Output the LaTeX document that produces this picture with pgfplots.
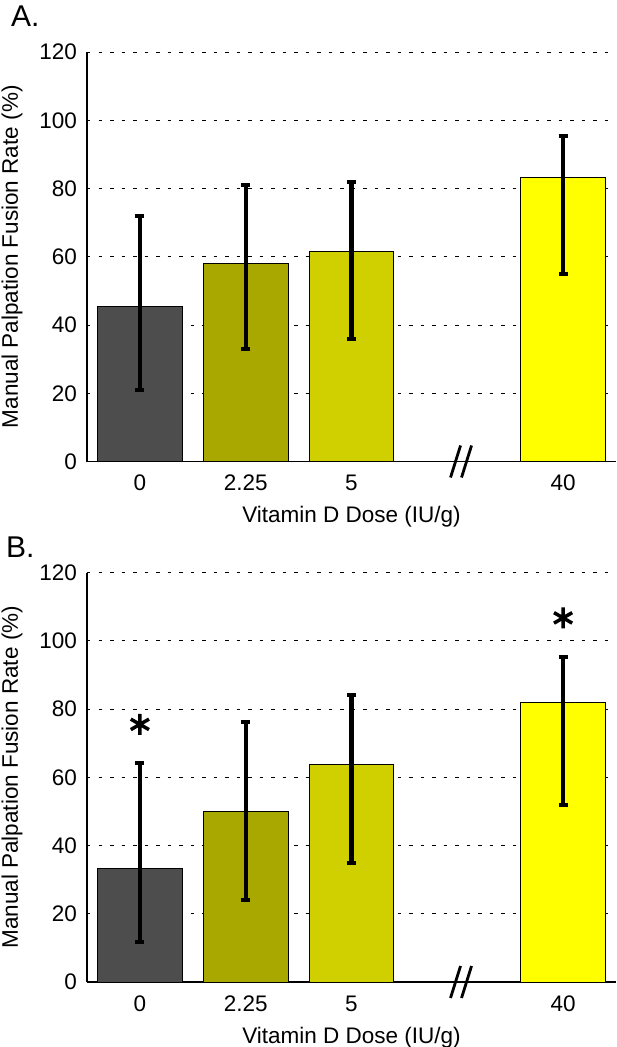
\documentclass[border=0pt]{standalone}
\usepackage{pgfplots}
\pgfplotsset{compat=1.18}
\usepackage{fontspec}
\setmainfont{Liberation Sans}
\definecolor{c0}{RGB}{77,77,77}
\definecolor{c1}{RGB}{168,168,0}
\definecolor{c2}{RGB}{208,208,0}
\definecolor{c3}{RGB}{255,255,0}
\pgfplotsset{
 panel/.style={scale only axis, width=529pt, height=409.5pt, anchor=south west,
   xmin=-0.5, xmax=4.5, ymin=0, ymax=120,
   xtick={0,1,2,4}, xticklabels={0,2.25,5,40},
   ytick={0,20,...,120},
   /pgf/number format/assume math mode=true,
   axis x line*=bottom, axis y line*=left,
   axis line style={-, line width=1.2pt, black},
   major tick length=0pt,
   ymajorgrids, major grid style={black, line width=1pt, dash pattern=on 3.5pt off 8pt},
   tick label style={font=\fontsize{22.5}{24}\selectfont, inner sep=0pt},
   xticklabel style={anchor=north, yshift=-13.5pt},
   yticklabel style={anchor=east, xshift=-10pt},
   label style={font=\fontsize{22.5}{24}\selectfont, inner sep=0pt},
   xlabel={Vitamin D Dose (IU/g)},
   ylabel={Manual Palpation Fusion Rate (\%)},
   xlabel style={at={(axis description cs:0.5,-0.1087)}, anchor=north},
   ylabel style={at={(axis description cs:-0.1418,0.5)}, anchor=center},
   clip=false,
 },
 bar/.style={ybar, bar width=0.8, bar shift=0pt, draw=black, line width=1pt, fill=#1,
   error bars/.cd, y dir=both, y explicit, error mark=|,
   error bar style={line width=4.3pt, black, solid},
   error mark options={line width=4pt, mark size=4.5pt, black, solid}},
}
\begin{document}
\begin{tikzpicture}
\path[use as bounding box] (0pt,0pt) rectangle (616pt,-1047pt);
\node[anchor=north west, inner sep=0pt, font=\fontsize{30}{32}\selectfont] at (11pt,-6pt) {A.};
\node[anchor=north west, inner sep=0pt, font=\fontsize{30}{32}\selectfont] at (6pt,-537pt) {B.};
\begin{axis}[panel, at={(87pt,-461.5pt)}]
\addplot[bar=c0] coordinates {(0,45.4) += (0,26.6) -= (0,24.4)};
\addplot[bar=c1] coordinates {(1,58.1) += (0,22.9) -= (0,25.2)};
\addplot[bar=c2] coordinates {(2,61.4) += (0,20.6) -= (0,25.4)};
\addplot[bar=c3] coordinates {(4,83.3) += (0,12.0) -= (0,28.3)};
\draw[line width=2.8pt] (axis cs:3.04,0) ++(-11pt,-16pt) -- ++(10pt,32pt)
      (axis cs:3.04,0) ++(0pt,-16pt) -- ++(10pt,32pt);
\end{axis}
\begin{axis}[panel, at={(87pt,-982pt)}]
\addplot[bar=c0] coordinates {(0,33.2) += (0,30.9) -= (0,21.4)};
\addplot[bar=c1] coordinates {(1,50.0) += (0,26.2) -= (0,26.0)};
\addplot[bar=c2] coordinates {(2,63.6) += (0,20.5) -= (0,28.7)};
\addplot[bar=c3] coordinates {(4,81.8) += (0,13.4) -= (0,29.8)};
\addplot[only marks, mark=asterisk, mark size=10.5pt, line width=3.5pt, black] coordinates {(0,75.5) (4,106.7)};
\draw[line width=2.8pt] (axis cs:3.04,0) ++(-11pt,-16pt) -- ++(10pt,32pt)
      (axis cs:3.04,0) ++(0pt,-16pt) -- ++(10pt,32pt);
\end{axis}
\end{tikzpicture}
\end{document}
